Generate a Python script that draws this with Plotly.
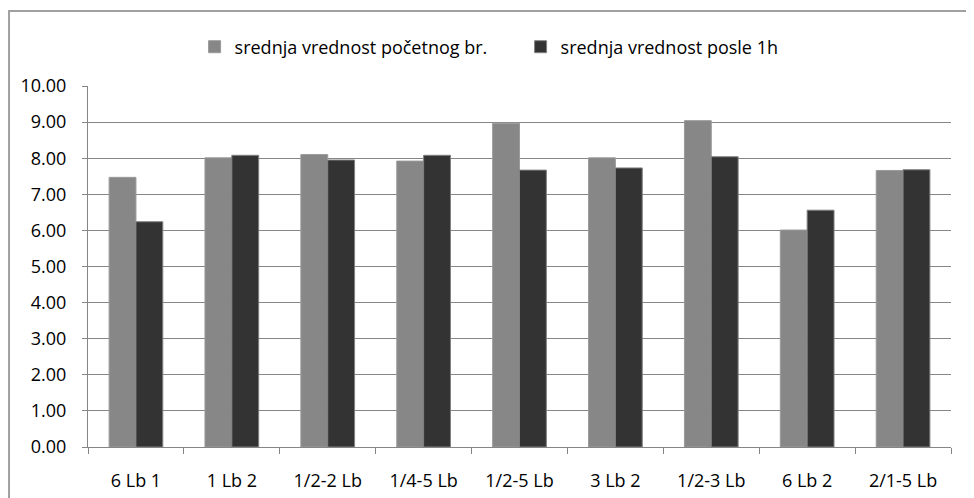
import plotly.graph_objects as go

categories = ["6 Lb 1", "1 Lb 2", "1/2-2 Lb", "1/4-5 Lb", "1/2-5 Lb", "3 Lb 2", "1/2-3 Lb", "6 Lb 2", "2/1-5 Lb"]
initial_mean = [7.47, 8.01, 8.10, 7.92, 8.97, 8.01, 9.04, 6.01, 7.66]
after_1h_mean = [6.24, 8.08, 7.95, 8.08, 7.67, 7.73, 8.04, 6.56, 7.68]
series_names = ["srednja vrednost početnog br.", "srednja vrednost posle 1h"]
y_ticks = [0, 1, 2, 3, 4, 5, 6, 7, 8, 9, 10]

FONT = "Open Sans, Liberation Sans, sans-serif"

fig = go.Figure()
fig.add_trace(go.Bar(x=categories, y=initial_mean, name=series_names[0],
                     marker=dict(color="#878787", line=dict(color="#9a9a9a", width=1))))
fig.add_trace(go.Bar(x=categories, y=after_1h_mean, name=series_names[1],
                     marker=dict(color="#333333", line=dict(color="#808080", width=1))))

fig.update_layout(
    width=974, height=498,
    margin=dict(l=80, r=31, t=78, b=59),
    paper_bgcolor="white", plot_bgcolor="white",
    barmode="group", bargap=0.44, bargroupgap=0,
    font=dict(family=FONT, size=18, color="black"),
    legend=dict(orientation="h", x=0.1235, xanchor="left", y=1.108, yanchor="middle",
                font=dict(size=18), itemwidth=30, traceorder="normal",
                entrywidth=281, entrywidthmode="pixels"),
    showlegend=True,
)
fig.update_xaxes(showline=True, linecolor="#868686", linewidth=1,
                 ticks="outside", tickson="boundaries", ticklen=6, tickcolor="#868686",
                 showgrid=False, tickfont=dict(size=18), ticklabelstandoff=17)
fig.update_yaxes(range=[0, 10], tickvals=y_ticks, tickformat=".2f",
                 showline=True, linecolor="#868686", linewidth=1,
                 ticks="outside", ticklen=5, tickcolor="#868686",
                 showgrid=True, gridcolor="#868686", gridwidth=1,
                 zeroline=False, tickfont=dict(size=18), ticklabelstandoff=12)

fig.add_shape(type="rect", xref="paper", yref="paper",
              x0=-0.0915, x1=1.05, y0=-0.2, y1=1.2076,
              line=dict(color="#a0a0a0", width=2), fillcolor="rgba(0,0,0,0)", layer="below")

fig.write_html("out.html")
